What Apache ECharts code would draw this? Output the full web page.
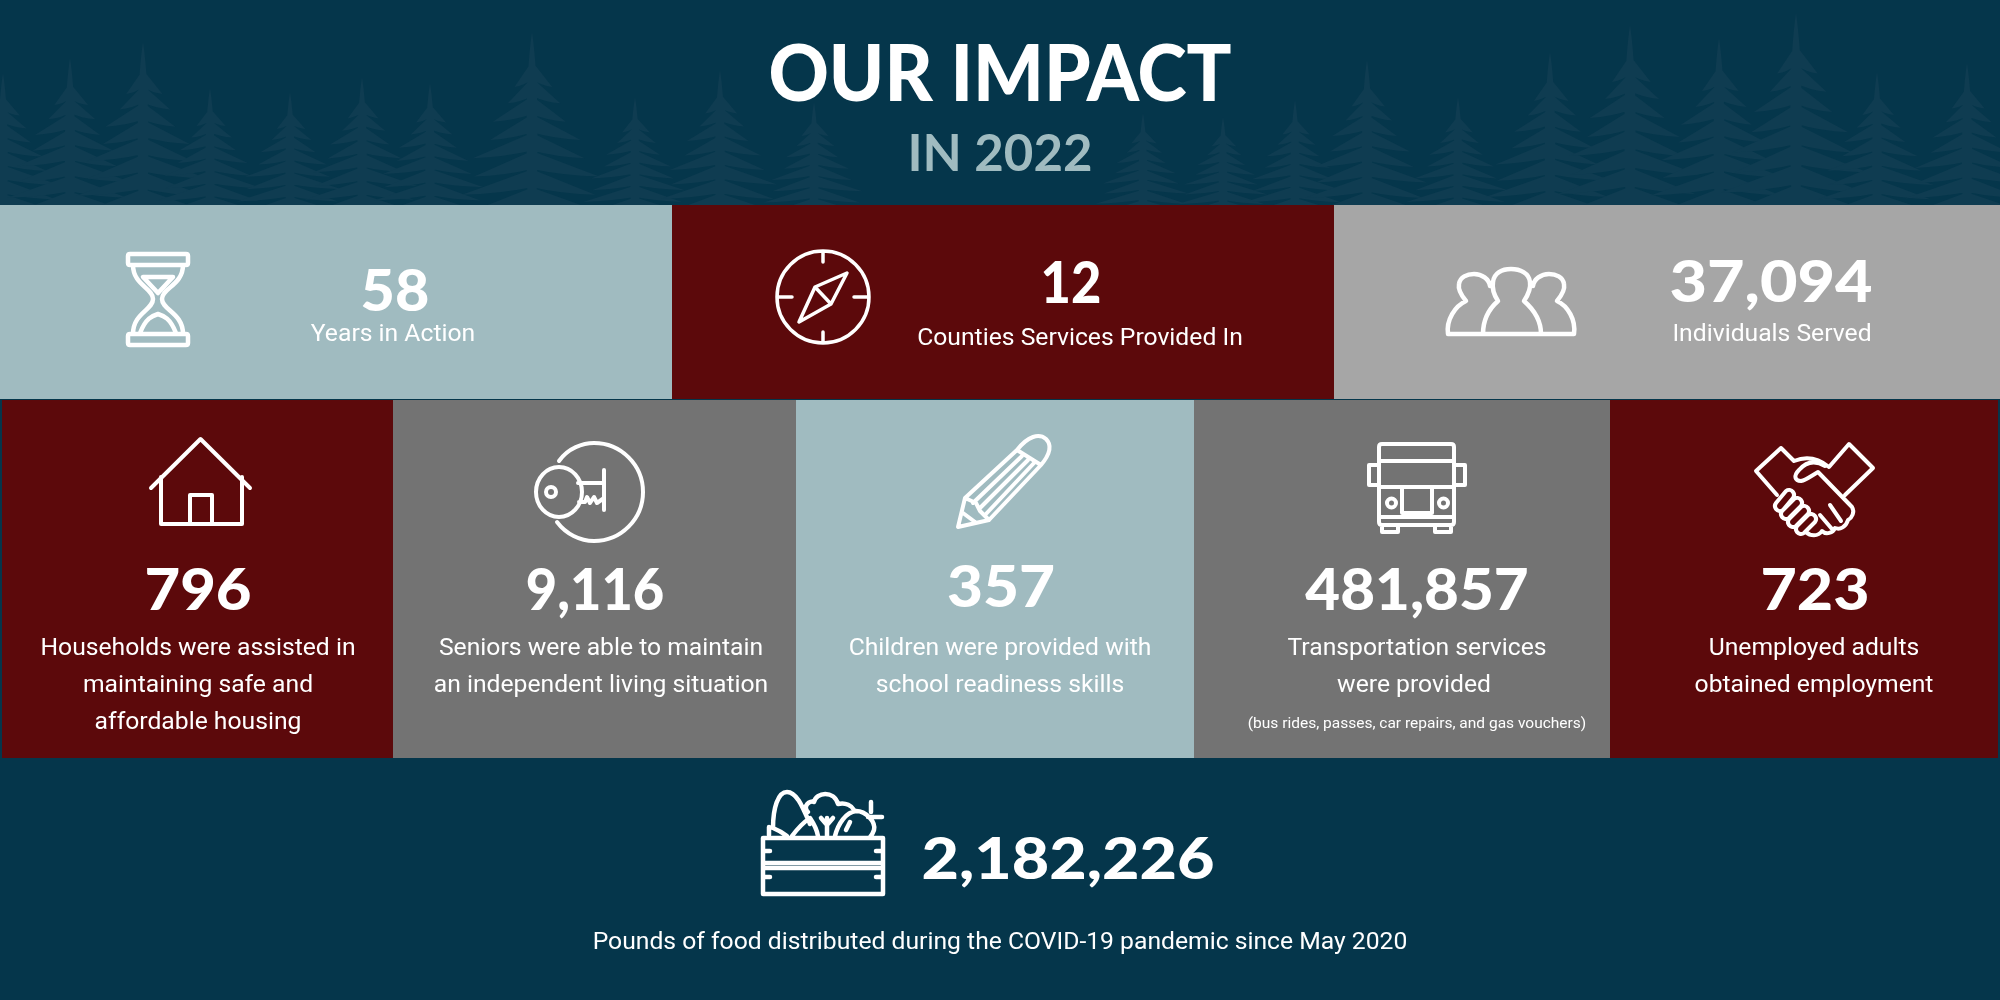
<!DOCTYPE html>
<html>
<head>
<meta charset="utf-8">
<title>Our Impact</title>
<style>
  html, body { margin: 0; padding: 0; background: #05364b; }
  #chart { width: 2000px; height: 1000px; }
</style>
<script src="https://cdn.jsdelivr.net/npm/echarts@6/dist/echarts.min.js"></script>
</head>
<body>
<div id="chart"></div>
<script>
// values and wording
const titleText = 'OUR IMPACT'
const subtitleText = 'IN 2022'
const topValues = ['58', '12', '37,094']
const topLabels = ['Years in Action', 'Counties Services Provided In', 'Individuals Served']
const midValues = ['796', '9,116', '357', '481,857', '723']
const midLabels = [
  ['Households were assisted in', 'maintaining safe and', 'affordable housing'],
  ['Seniors were able to maintain', 'an independent living situation'],
  ['Children were provided with', 'school readiness skills'],
  ['Transportation services', 'were provided'],
  ['Unemployed adults', 'obtained employment']
]
const transportNote = '(bus rides, passes, car repairs, and gas vouchers)'
const foodValue = '2,182,226'
const foodLabel = 'Pounds of food distributed during the COVID-19 pandemic since May 2020'

const NAVY = '#05364b'
const TREE = '#0f3c51'
const TEAL = '#a0bbc0'
const MAROON = '#5c090b'
const GREY = '#a6a6a6'
const DARK = '#737373'
const NUM_FONT = 'Lato'
const BODY_FONT = 'Roboto'

const topPanels = [
  { x: 0, w: 672, fill: TEAL, numX: 395, numY: 293, sx: 1.04, labelX: 393, labelY: 335 },
  { x: 672, w: 662, fill: MAROON, numX: 1071, numY: 285, sx: 0.92, labelX: 1080, labelY: 339 },
  { x: 1334, w: 666, fill: GREY, numX: 1771, numY: 284, sx: 1.136, labelX: 1772, labelY: 335 }
]
const midPanels = [
  { x: 2, w: 391, fill: MAROON, numX: 198, numY: 592, sx: 1.08, labelX: [198, 198, 198] },
  { x: 393, w: 403, fill: DARK, numX: 595, numY: 592, sx: 0.95, labelX: [601, 601] },
  { x: 796, w: 398, fill: TEAL, numX: 1001, numY: 589, sx: 1.09, labelX: [1000, 1000] },
  { x: 1194, w: 416, fill: DARK, numX: 1417, numY: 592, sx: 1.055, labelX: [1417, 1414] },
  { x: 1610, w: 388, fill: MAROON, numX: 1815, numY: 592, sx: 1.1, labelX: [1814, 1814] }
]
const labelLineY = [648.5, 685.5, 722.5]

// [tip x, tip y] of the background firs
const treeTips = [
  [3, 73], [70, 58], [143, 42], [210, 88], [290, 92], [362, 77], [430, 83], [532, 32],
  [635, 97], [720, 70], [814, 102], [1143, 113], [1223, 117], [1295, 100], [1367, 60],
  [1458, 97], [1550, 52], [1630, 25], [1719, 38], [1796, 13], [1877, 72], [1967, 63]
]
// height along the tree, right reach, left reach of each pair of boughs
const treeTiers = [
  [0.16, 0.3, 0.26], [0.25, 0.42, 0.36], [0.35, 0.5, 0.58], [0.45, 0.72, 0.62],
  [0.55, 0.78, 0.88], [0.65, 1, 0.86], [0.75, 0.94, 1.04], [0.85, 1.06, 0.96]
]

function treePath(cx, top) {
  const h = 215 - top
  const half = 0.27 * h + 18
  const spike = 0.035 * h + 2
  let d = `M${cx} ${top} Q${cx + spike} ${top + h * 0.3} ${cx + 4} ${top + h} L${cx - 4} ${top + h} ` +
    `Q${cx - spike} ${top + h * 0.3} ${cx} ${top} Z `
  treeTiers.forEach(([pos, right, left]) => {
    const y = top + pos * h
    const drop = h * 0.14
    const rw = half * right
    const lw = half * left
    d += `M${cx} ${y} Q${cx + rw * 0.55} ${y + drop * 0.55} ${cx + rw} ${y + drop} ` +
      `Q${cx + rw * 0.45} ${y + drop * 0.95} ${cx} ${y + drop * 0.7} Z `
    d += `M${cx} ${y + drop * 0.7} Q${cx - lw * 0.45} ${y + drop * 0.95} ${cx - lw} ${y + drop} ` +
      `Q${cx - lw * 0.55} ${y + drop * 0.55} ${cx} ${y} Z `
  })
  return d
}

const icons = {
  hourglass: 'M130 254 H186 Q188 254 188 256 V263 Q188 265 186 265 H130 Q128 265 128 263 V256 Q128 254 130 254 Z ' +
    'M130 334 H186 Q188 334 188 336 V343 Q188 345 186 345 H130 Q128 345 128 343 V336 Q128 334 130 334 Z ' +
    'M133 265 C133 285 153 288 153 299 C153 310 133 313 133 334 ' +
    'M183 265 C183 285 162 288 162 299 C162 310 183 313 183 334 ' +
    'M143 277 H173 L158 293 Z M140 333 C146 318 152 316 158 314 C164 316 170 318 176 333',
  compass: 'M869 297 A46 46 0 1 1 777 297 A46 46 0 1 1 869 297 Z ' +
    'M823 251 V262 M823 332 V343 M777 297 H792 M854 297 H869 ' +
    'M847 273 L815 287 L799 322 L831 304 Z M815 287 L831 304',
  people: 'M1448 334 H1574 C1576 320 1568 306 1557 301 C1562 295 1565 289 1564 284 C1563 277 1556 274 1549 274 ' +
    'C1541 274 1534 279 1533 286 M1448 334 C1446 320 1455 306 1466 301 C1461 295 1458 289 1459 284 ' +
    'C1460 277 1467 274 1474 274 C1482 274 1489 279 1490 286 ' +
    'M1483 334 C1483 318 1490 308 1498 301 C1494 295 1492 288 1493 282 C1494 273 1502 269 1511 269 ' +
    'C1520 269 1529 273 1530 282 C1531 288 1528 295 1524 301 C1532 308 1541 318 1541 334',
  house: 'M151 488 L200.5 439 L250 488 M161 477 V524 H242 V477 M190 524 V495 H212 V524',
  key: 'M559 461 C568 448 583 443 594 443 C621 443 643 465 643 492 C643 519 621 541 594 541 C580 541 566 534 557 522 ' +
    'M582 492 A23 25 0 1 1 536 492 A23 25 0 1 1 582 492 Z ' +
    'M556 492 A5 5 0 1 1 546 492 A5 5 0 1 1 556 492 Z ' +
    'M578 483 H604 M604 470 V510 M579 502 H585 L587 497 L590 503 L594 497 L597 503 L604 498',
  pencil: 'M965 498 L958 527 L989 520 L1041 465 C1051 453 1052 445 1046 439 C1039 433 1028 436 1017 450 Z ' +
    'M1017 450 L1041 465 M1022 456 L973 503 M1028 460 L979 509 M1034 463 L985 515 ' +
    'M965 498 L976 503 L980 511 L989 520 M963 513 L975 522',
  bus: 'M1382 444 H1451 Q1454 444 1454 447 V522 Q1454 525 1451 525 H1382 Q1379 525 1379 522 V447 Q1379 444 1382 444 Z ' +
    'M1379 461 H1454 M1379 487 H1454 M1379 517 H1454 M1402 487 V513 H1432 V487 ' +
    'M1379 465 H1369 V485 H1379 M1454 465 H1465 V485 H1454 ' +
    'M1448 503 A4.5 4.5 0 1 1 1439 503 A4.5 4.5 0 1 1 1448 503 Z ' +
    'M1396 503 A4.5 4.5 0 1 1 1387 503 A4.5 4.5 0 1 1 1396 503 Z ' +
    'M1382 525 V532 H1398 V525 M1435 525 V532 H1451 V525',
  handshake: 'M1781 448 L1756 471 L1777 495 M1781 448 L1794 461 C1806 456 1818 458 1829 467 L1849 444 L1873 468 L1845 495 ' +
    'M1825 466 C1815 460 1806 462 1799 470 C1793 476 1795 481 1801 481 C1806 480 1811 476 1818 472 L1852 507 ' +
    'C1855 512 1852 518 1848 520 C1846 527 1840 530 1835 528 C1833 533 1826 535 1822 531 C1818 537 1810 536 1806 532 ' +
    'M1830 505 L1841 521 M1820 515 L1832 529 ' +
    'M1776 503 L1786 491 A5 5 0 0 1 1793 498 L1783 510 A5 5 0 0 1 1776 503 Z ' +
    'M1782 511 L1794 499 A5 5 0 0 1 1801 506 L1789 518 A5 5 0 0 1 1782 511 Z ' +
    'M1789 519 L1801 507 A5 5 0 0 1 1808 514 L1796 526 A5 5 0 0 1 1789 519 Z ' +
    'M1797 526 L1808 515 A5 5 0 0 1 1815 522 L1804 533 A5 5 0 0 1 1797 526 Z',
  crate: 'M763 838 H883 V894 H763 Z M763 863 H883 M763 868 H883 ' +
    'M763 851 H770 M763 877 H770 M876 851 H883 M876 877 H883 ' +
    'M769 835 V827 M773 828 C773 808 778 792 787 792 C797 792 803 808 810 824 M773 828 C778 830 783 833 787 836 ' +
    'M792 836 C798 828 804 822 810 818 C814 824 817 830 818 836 ' +
    'M808 812 C802 806 810 800 814 802 C816 792 834 790 838 804 C846 802 852 806 854 810 ' +
    'M827 836 V818 M827 825 L821 818 M827 825 L833 818 M835 836 C838 824 846 812 856 811 C866 811 876 822 874 830 C873 833 872 835 870 837 ' +
    'M871 812 V802 M868 817 H882 M846 830 L850 822'
}
const iconWidths = { compass: 3.5, people: 4.5, hourglass: 4.5, crate: 4.5, key: 4 }

const children = []

function addText(text, x, y, fontSize, fontWeight, fontFamily, fill, scaleX) {
  children.push({
    type: 'text',
    x: x,
    y: y,
    scaleX: scaleX || 1,
    style: { x: 0, y: 0, text: text, fill: fill || '#fff', fontSize: fontSize, fontWeight: fontWeight, fontFamily: fontFamily, textAlign: 'center', textVerticalAlign: 'middle' }
  })
}

function addIcon(pathData, lineWidth) {
  children.push({
    type: 'path',
    shape: { pathData: pathData },
    style: { fill: 'none', stroke: '#fff', lineWidth: lineWidth || 4, lineJoin: 'round', lineCap: 'round' }
  })
}

// background, firs
children.push({ type: 'rect', shape: { x: 0, y: 0, width: 2000, height: 1000 }, style: { fill: NAVY } })
treeTips.forEach(t => {
  children.push({ type: 'path', shape: { pathData: treePath(t[0], t[1]) }, style: { fill: TREE } })
})

// panels
topPanels.forEach((p, i) => {
  children.push({ type: 'rect', shape: { x: p.x, y: 205, width: p.w, height: 194 }, style: { fill: p.fill } })
  addText(topValues[i], p.numX, p.numY, 57, 900, NUM_FONT, '#fff', p.sx)
  addText(topLabels[i], p.labelX, p.labelY, 24.7, 400, BODY_FONT)
})
midPanels.forEach((p, i) => {
  children.push({ type: 'rect', shape: { x: p.x, y: 400, width: p.w, height: 358 }, style: { fill: p.fill } })
  addText(midValues[i], p.numX, p.numY, 57, 900, NUM_FONT, '#fff', p.sx)
  midLabels[i].forEach((line, j) => addText(line, p.labelX[j], labelLineY[j], 24.7, 400, BODY_FONT))
})

addText(titleText, 1000, 76, 79, 900, NUM_FONT, '#fff', 0.943)
addText(subtitleText, 1000, 154, 52, 700, NUM_FONT, TEAL, 0.98)
addText(transportNote, 1417, 724, 15.5, 400, BODY_FONT)
addText(foodValue, 1068, 861, 57, 900, NUM_FONT, '#fff', 1.134)
addText(foodLabel, 1000, 943, 24.7, 400, BODY_FONT)

Object.keys(icons).forEach(k => addIcon(icons[k], iconWidths[k]))

const chart = echarts.init(document.getElementById('chart'))
chart.setOption({
  animation: false,
  series: [{
    type: 'custom',
    coordinateSystem: 'none',
    silent: true,
    data: [0],
    renderItem: () => ({ type: 'group', children: children })
  }]
})
</script>
</body>
</html>
